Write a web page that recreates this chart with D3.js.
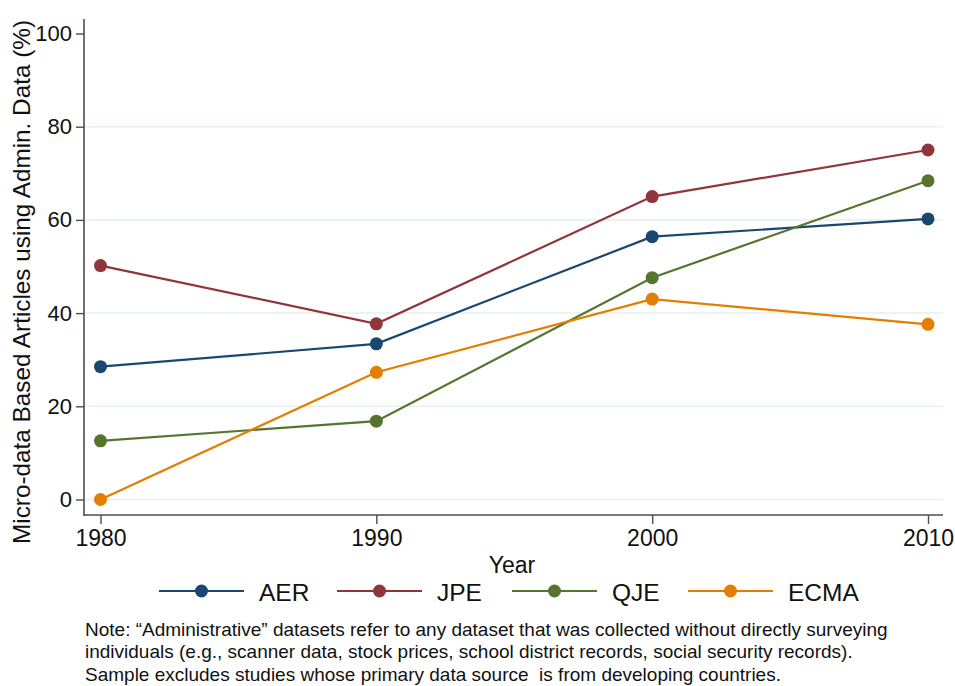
<!DOCTYPE html>
<html>
<head>
<meta charset="utf-8">
<script src="https://cdn.jsdelivr.net/npm/d3@7"></script>
<style>
  html, body { margin: 0; padding: 0; background: #fff; }
  svg { display: block; font-family: "Liberation Sans", Arial, sans-serif; }
</style>
</head>
<body>
<svg id="chart" width="955" height="686"></svg>
<script>
const years = [1980, 1990, 2000, 2010];
const yTicks = [0, 20, 40, 60, 80, 100];
const seriesNames = ["AER", "JPE", "QJE", "ECMA"];
const seriesColors = ["#1a476f", "#90353b", "#55752f", "#e37e00"];
const aer  = [28.5, 33.4, 56.4, 60.2];
const jpe  = [50.2, 37.7, 65.0, 75.0];
const qje  = [12.6, 16.8, 47.6, 68.4];
const ecma = [0.0, 27.3, 43.0, 37.6];
const seriesValues = [aer, jpe, qje, ecma];
const noteLines = [
  "Note: \u201cAdministrative\u201d datasets refer to any dataset that was collected without directly surveying",
  "individuals (e.g., scanner data, stock prices, school district records, social security records).",
  "Sample excludes studies whose primary data source  is from developing countries."
];

const svg = d3.select("#chart");
const x = d3.scaleLinear().domain([1980, 2010]).range([100.5, 928]);
const y = d3.scaleLinear().domain([0, 100]).range([499.5, 33.5]);
const axisColor = "#4d4d4d";

// gridlines
svg.append("g").selectAll("line").data([0, 20, 40, 60, 80]).join("line")
  .attr("x1", 85).attr("x2", 943)
  .attr("y1", d => y(d)).attr("y2", d => y(d))
  .attr("stroke", "#e6eff1").attr("stroke-width", 1.5);

// y axis
const yAxis = d3.axisLeft(y).tickValues(yTicks).tickSize(8).tickPadding(4).tickFormat(d3.format("d"));
const gy = svg.append("g").attr("transform", "translate(84,0)").call(yAxis);
gy.select(".domain").remove();
gy.append("line").attr("x1", 0).attr("x2", 0).attr("y1", 19).attr("y2", 516)
  .attr("stroke", axisColor).attr("stroke-width", 1.6);
gy.selectAll(".tick line").attr("stroke", axisColor).attr("stroke-width", 1.4);
gy.selectAll(".tick text").attr("fill", "#111").style("font-size", "22px")
  .style("font-family", '"Liberation Sans", Arial, sans-serif');

// x axis
const xAxis = d3.axisBottom(x).tickValues(years).tickSize(9).tickPadding(6).tickFormat(d3.format("d"));
const gx = svg.append("g").attr("transform", "translate(0,515)").call(xAxis);
gx.select(".domain").remove();
gx.append("line").attr("x1", 84).attr("x2", 943).attr("y1", 0).attr("y2", 0)
  .attr("stroke", axisColor).attr("stroke-width", 1.6);
gx.selectAll(".tick line").attr("stroke", axisColor).attr("stroke-width", 1.4);
gx.selectAll(".tick text").attr("fill", "#111").style("font-size", "23px")
  .style("font-family", '"Liberation Sans", Arial, sans-serif');

// axis titles
svg.append("text").attr("transform", "translate(30,282) rotate(-90)")
  .attr("text-anchor", "middle").attr("fill", "#111").style("font-size", "24.3px")
  .text("Micro-data Based Articles using Admin. Data (%)");
svg.append("text").attr("x", 512).attr("y", 573).attr("text-anchor", "middle")
  .attr("fill", "#111").style("font-size", "23px").text("Year");

// series
const line = d3.line().x((d, i) => x(years[i])).y(d => y(d));
seriesValues.forEach((vals, si) => {
  const g = svg.append("g");
  g.append("path").attr("d", line(vals)).attr("fill", "none")
    .attr("stroke", seriesColors[si]).attr("stroke-width", 2.2);
  g.selectAll("circle").data(vals).join("circle")
    .attr("cx", (d, i) => x(years[i])).attr("cy", d => y(d)).attr("r", 6.5)
    .attr("fill", seriesColors[si]);
});

// legend
const legendX = [159, 337, 512, 688];
const lg = svg.append("g");
seriesNames.forEach((name, i) => {
  const lx = legendX[i];
  lg.append("line").attr("x1", lx).attr("x2", lx + 85).attr("y1", 591).attr("y2", 591)
    .attr("stroke", seriesColors[i]).attr("stroke-width", 2.2);
  lg.append("circle").attr("cx", lx + 42.5).attr("cy", 591).attr("r", 6.5).attr("fill", seriesColors[i]);
  lg.append("text").attr("x", lx + 100).attr("y", 600.5).attr("fill", "#111")
    .style("font-size", "24.5px").text(name);
});

// note
svg.append("g").selectAll("text").data(noteLines).join("text")
  .attr("x", 85).attr("y", (d, i) => 635.5 + i * 22.7)
  .attr("fill", "#111").style("font-size", "19px").style("white-space", "pre")
  .text(d => d);
</script>
</body>
</html>
